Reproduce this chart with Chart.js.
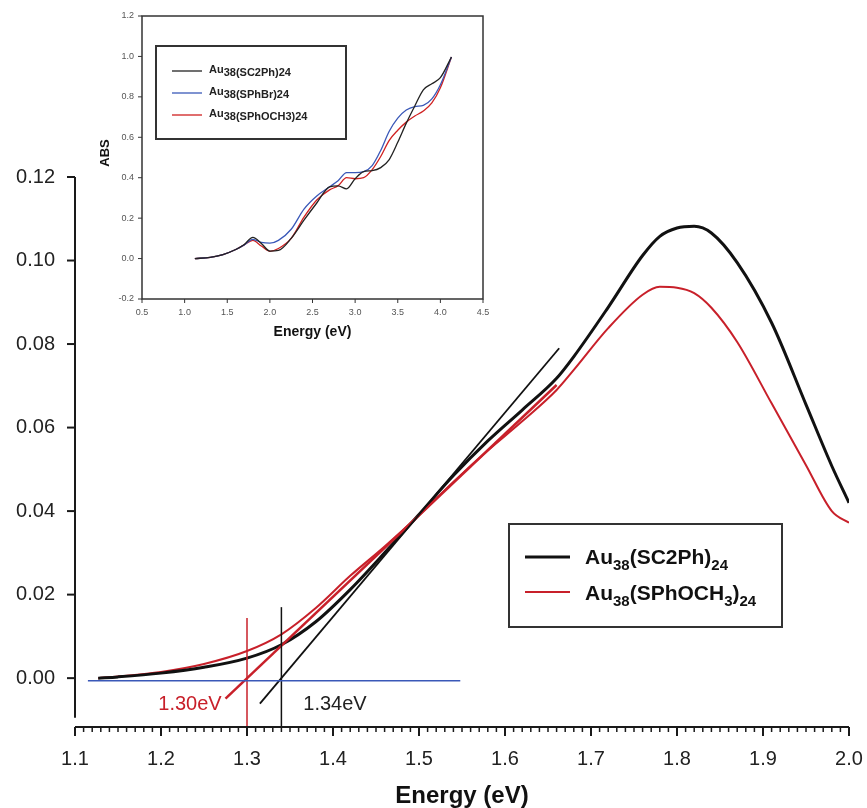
<!DOCTYPE html>
<html>
<head>
<meta charset="utf-8">
<script src="https://cdn.jsdelivr.net/npm/chart.js@4"></script>
<style>
  body { margin: 0; background: #fff; }
  #wrap { position: relative; width: 867px; height: 808px; }
  canvas { position: absolute; }
</style>
</head>
<body>
<div id="wrap">
  <canvas id="mainChart" width="867" height="808" style="left:0;top:0"></canvas>
  <canvas id="insetChart" width="420" height="350" style="left:90px;top:0"></canvas>
</div>
<script>
// main plot: absorbance near the band edge
const mainEnergy = [1.127, 1.15, 1.20, 1.25, 1.30, 1.34, 1.38, 1.42, 1.46, 1.50, 1.54, 1.58, 1.62, 1.66, 1.68, 1.72, 1.76, 1.78, 1.80, 1.82, 1.84, 1.87, 1.91, 1.95, 1.98, 2.00];
const mainSC2Ph = [0.0000, 0.0003, 0.0012, 0.0026, 0.0048, 0.0080, 0.0135, 0.0212, 0.0300, 0.0392, 0.0485, 0.0568, 0.0642, 0.0718, 0.0770, 0.0888, 0.1012, 0.1058, 0.1078, 0.1082, 0.1066, 0.0995, 0.0851, 0.0655, 0.0508, 0.0420];
const mainSPhOCH3 = [0.0000, 0.0004, 0.0015, 0.0034, 0.0065, 0.0105, 0.0168, 0.0245, 0.0315, 0.0390, 0.0470, 0.0545, 0.0615, 0.0690, 0.0738, 0.0838, 0.0918, 0.0937, 0.0935, 0.0922, 0.0887, 0.0805, 0.0658, 0.0510, 0.0400, 0.0372];

// tangent fits, baseline and onset markers
const blackTangentE = [1.315, 1.663];
const blackTangentV = [-0.0061, 0.0790];
const redTangentE = [1.275, 1.66];
const redTangentV = [-0.0049, 0.0702];
const baselineE = [1.115, 1.548];
const baselineV = [-0.0006, -0.0006];
const onsetBlack = 1.34;
const onsetRed = 1.30;

const mainXTicks = [1.1, 1.2, 1.3, 1.4, 1.5, 1.6, 1.7, 1.8, 1.9, 2.0];
const mainYTicks = [0, 0.02, 0.04, 0.06, 0.08, 0.10, 0.12];

// inset: full spectra
const insetEnergy = [1.12, 1.3, 1.45, 1.6, 1.7, 1.8, 1.9, 2.0, 2.1, 2.25, 2.4, 2.55, 2.7, 2.8, 2.9, 3.0, 3.1, 3.2, 3.3, 3.4, 3.5, 3.6, 3.7, 3.8, 3.9, 4.0, 4.13];
const insetSC2Ph = [0, 0.006, 0.02, 0.045, 0.07, 0.105, 0.075, 0.037, 0.04, 0.10, 0.19, 0.275, 0.355, 0.36, 0.345, 0.395, 0.43, 0.435, 0.45, 0.49, 0.575, 0.67, 0.755, 0.835, 0.865, 0.895, 0.997];
const insetSPhBr = [0, 0.006, 0.02, 0.045, 0.068, 0.095, 0.08, 0.076, 0.09, 0.145, 0.245, 0.31, 0.355, 0.385, 0.425, 0.425, 0.43, 0.46, 0.535, 0.63, 0.695, 0.735, 0.752, 0.758, 0.79, 0.86, 0.997];
const insetSPhOCH3 = [0, 0.006, 0.02, 0.045, 0.068, 0.09, 0.062, 0.036, 0.05, 0.10, 0.205, 0.29, 0.34, 0.36, 0.40, 0.395, 0.40, 0.44, 0.505, 0.585, 0.635, 0.675, 0.705, 0.73, 0.77, 0.845, 0.997];
const insetXTicks = [0.5, 1.0, 1.5, 2.0, 2.5, 3.0, 3.5, 4.0, 4.5];
const insetYTicks = [-0.2, 0, 0.2, 0.4, 0.6, 0.8, 1.0, 1.2];

const BLACK = '#111111';
const RED = '#c8202a';
const BLUE = '#3a58b8';
const FONT = '"Liberation Sans", Arial, sans-serif';

function toPoints(xs, ys) {
    return xs.map((x, i) => ({ x: x, y: ys[i] }));
}

// draws text with subscript parts, e.g. Au_38(SC2Ph)_24
function drawRich(ctx, parts, x, y, size, subSize, subDrop) {
    let cx = x;
    parts.forEach(p => {
        ctx.font = 'bold ' + (p.sub ? subSize : size) + 'px ' + FONT;
        ctx.fillText(p.t, cx, p.sub ? y + subDrop : y);
        cx += ctx.measureText(p.t).width;
    });
}

const mainDecor = {
    id: 'mainDecor',
    afterDraw(chart) {
        const ctx = chart.ctx;
        const x = chart.scales.x, y = chart.scales.y;
        ctx.save();
        ctx.strokeStyle = '#1a1a1a';
        ctx.lineWidth = 2;

        // y axis (stops short of the x axis)
        const ax = x.getPixelForValue(1.1);
        ctx.beginPath();
        ctx.moveTo(ax, y.getPixelForValue(0.12));
        ctx.lineTo(ax, y.getPixelForValue(-0.0095));
        ctx.stroke();
        mainYTicks.forEach(v => {
            const py = y.getPixelForValue(v);
            ctx.beginPath();
            ctx.moveTo(ax - 8, py);
            ctx.lineTo(ax, py);
            ctx.stroke();
        });

        // x axis with minor ticks every 0.01
        const ay = y.bottom;
        ctx.beginPath();
        ctx.moveTo(x.getPixelForValue(1.1), ay);
        ctx.lineTo(x.getPixelForValue(2.0), ay);
        ctx.stroke();
        for (let i = 0; i <= 90; i++) {
            const px = x.getPixelForValue(1.1 + i * 0.01);
            const len = i % 10 === 0 ? 9 : 5;
            ctx.lineWidth = i % 10 === 0 ? 2 : 1.5;
            ctx.beginPath();
            ctx.moveTo(px, ay);
            ctx.lineTo(px, ay + len);
            ctx.stroke();
        }

        // axis title
        ctx.fillStyle = '#111';
        ctx.font = 'bold 24px ' + FONT;
        ctx.textAlign = 'center';
        ctx.textBaseline = 'alphabetic';
        ctx.fillText('Energy (eV)', (x.left + x.right) / 2, 803);

        // onset labels
        ctx.font = '20px ' + FONT;
        ctx.textBaseline = 'middle';
        ctx.fillStyle = RED;
        ctx.fillText('1.30eV', x.getPixelForValue(1.2337), y.getPixelForValue(-0.0064));
        ctx.fillStyle = '#222';
        ctx.fillText('1.34eV', x.getPixelForValue(1.4023), y.getPixelForValue(-0.0064));

        // legend
        ctx.lineWidth = 2;
        ctx.strokeStyle = '#333';
        ctx.strokeRect(509, 524, 273, 103);
        ctx.lineWidth = 3;
        ctx.strokeStyle = BLACK;
        ctx.beginPath(); ctx.moveTo(525, 557); ctx.lineTo(570, 557); ctx.stroke();
        ctx.lineWidth = 2;
        ctx.strokeStyle = RED;
        ctx.beginPath(); ctx.moveTo(525, 592); ctx.lineTo(570, 592); ctx.stroke();
        ctx.fillStyle = '#111';
        ctx.textAlign = 'left';
        ctx.textBaseline = 'alphabetic';
        drawRich(ctx, [{ t: 'Au' }, { t: '38', sub: true }, { t: '(SC2Ph)' }, { t: '24', sub: true }], 585, 564, 21, 15, 6);
        drawRich(ctx, [{ t: 'Au' }, { t: '38', sub: true }, { t: '(SPhOCH' }, { t: '3', sub: true }, { t: ')' }, { t: '24', sub: true }], 585, 600, 21, 15, 6);
        ctx.restore();
    }
};

const lineDefaults = { pointRadius: 0, showLine: true, fill: false };

// keep tick label overflow from shrinking the plot area
function noSidePad(s) {
    s.paddingLeft = 0;
    s.paddingRight = 0;
}

new Chart(document.getElementById('mainChart'), {
    type: 'scatter',
    data: {
        datasets: [
            Object.assign({ data: toPoints(baselineE, baselineV), borderColor: BLUE, borderWidth: 1.5 }, lineDefaults),
            Object.assign({ data: toPoints([onsetRed, onsetRed], [-0.0117, 0.0144]), borderColor: RED, borderWidth: 1.5 }, lineDefaults),
            Object.assign({ data: toPoints([onsetBlack, onsetBlack], [-0.0117, 0.0170]), borderColor: BLACK, borderWidth: 1.5 }, lineDefaults),
            Object.assign({ data: toPoints(blackTangentE, blackTangentV), borderColor: BLACK, borderWidth: 1.8 }, lineDefaults),
            Object.assign({ data: toPoints(redTangentE, redTangentV), borderColor: RED, borderWidth: 2.5 }, lineDefaults),
            Object.assign({ data: toPoints(mainEnergy, mainSC2Ph), borderColor: BLACK, borderWidth: 3, cubicInterpolationMode: 'monotone' }, lineDefaults),
            Object.assign({ data: toPoints(mainEnergy, mainSPhOCH3), borderColor: RED, borderWidth: 2, cubicInterpolationMode: 'monotone' }, lineDefaults)
        ]
    },
    options: {
        responsive: false,
        animation: false,
        layout: { padding: { top: 177, right: 18, left: 0, bottom: 0 } },
        plugins: { legend: { display: false }, tooltip: { enabled: false } },
        scales: {
            x: {
                type: 'linear', min: 1.1, max: 2.0,
                afterBuildTicks: s => { s.ticks = mainXTicks.map(v => ({ value: v })); },
                afterFit: s => { s.height = 81; noSidePad(s); },
                grid: { display: false, drawTicks: false },
                border: { display: false },
                ticks: { padding: 20, color: '#222', font: { family: FONT, size: 20 }, maxRotation: 0, callback: v => v.toFixed(1) }
            },
            y: {
                type: 'linear', min: -0.0117, max: 0.12,
                afterBuildTicks: s => { s.ticks = mainYTicks.map(v => ({ value: v })); },
                afterFit: s => { s.width = 75; },
                grid: { display: false, drawTicks: false },
                border: { display: false },
                ticks: { padding: 20, color: '#222', font: { family: FONT, size: 20 }, callback: v => v.toFixed(2) }
            }
        }
    },
    plugins: [mainDecor]
});

const insetDecor = {
    id: 'insetDecor',
    afterDraw(chart) {
        const ctx = chart.ctx;
        const a = chart.chartArea;
        const x = chart.scales.x, y = chart.scales.y;
        ctx.save();
        ctx.strokeStyle = '#333';
        ctx.lineWidth = 1.5;
        ctx.strokeRect(a.left, a.top, a.right - a.left, a.bottom - a.top);
        ctx.lineWidth = 1;
        insetXTicks.forEach(v => {
            const px = x.getPixelForValue(v);
            ctx.beginPath(); ctx.moveTo(px, a.bottom); ctx.lineTo(px, a.bottom + 4); ctx.stroke();
        });
        insetYTicks.forEach(v => {
            const py = y.getPixelForValue(v);
            ctx.beginPath(); ctx.moveTo(a.left - 4, py); ctx.lineTo(a.left, py); ctx.stroke();
        });

        // titles
        ctx.fillStyle = '#111';
        ctx.font = 'bold 14px ' + FONT;
        ctx.textAlign = 'center';
        ctx.textBaseline = 'middle';
        ctx.fillText('Energy (eV)', (a.left + a.right) / 2, 332);
        ctx.save();
        ctx.translate(15, 153);
        ctx.rotate(-Math.PI / 2);
        ctx.font = 'bold 13px ' + FONT;
        ctx.fillText('ABS', 0, 0);
        ctx.restore();

        // legend
        ctx.strokeStyle = '#333';
        ctx.lineWidth = 2;
        ctx.strokeRect(66, 46, 190, 93);
        const rows = [[71, '#222', '(SC2Ph)24'], [93, BLUE, '(SPhBr)24'], [115, '#d02020', '(SPhOCH3)24']];
        ctx.textAlign = 'left';
        ctx.textBaseline = 'alphabetic';
        ctx.lineWidth = 1.3;
        rows.forEach(r => {
            ctx.strokeStyle = r[1];
            ctx.beginPath(); ctx.moveTo(82, r[0]); ctx.lineTo(112, r[0]); ctx.stroke();
            ctx.fillStyle = '#222';
            drawRich(ctx, [{ t: 'Au' }, { t: '38' + r[2], sub: true }], 119, r[0] + 2, 11, 11, 3);
        });
        ctx.restore();
    }
};

new Chart(document.getElementById('insetChart'), {
    type: 'scatter',
    data: {
        datasets: [
            Object.assign({ data: toPoints(insetEnergy, insetSC2Ph), borderColor: '#222', borderWidth: 1.3, cubicInterpolationMode: 'monotone' }, lineDefaults),
            Object.assign({ data: toPoints(insetEnergy, insetSPhBr), borderColor: BLUE, borderWidth: 1.3, cubicInterpolationMode: 'monotone' }, lineDefaults),
            Object.assign({ data: toPoints(insetEnergy, insetSPhOCH3), borderColor: '#d02020', borderWidth: 1.3, cubicInterpolationMode: 'monotone' }, lineDefaults)
        ]
    },
    options: {
        responsive: false,
        animation: false,
        layout: { padding: { top: 16, right: 27, left: 0, bottom: 0 } },
        plugins: { legend: { display: false }, tooltip: { enabled: false } },
        scales: {
            x: {
                type: 'linear', min: 0.5, max: 4.5,
                afterBuildTicks: s => { s.ticks = insetXTicks.map(v => ({ value: v })); },
                afterFit: s => { s.height = 51; noSidePad(s); },
                grid: { display: false, drawTicks: false },
                border: { display: false },
                ticks: { padding: 8, color: '#555', font: { family: FONT, size: 9 }, maxRotation: 0, callback: v => v.toFixed(1) }
            },
            y: {
                type: 'linear', min: -0.2, max: 1.2,
                afterBuildTicks: s => { s.ticks = insetYTicks.map(v => ({ value: v })); },
                afterFit: s => { s.width = 52; },
                grid: { display: false, drawTicks: false },
                border: { display: false },
                ticks: { padding: 8, color: '#555', font: { family: FONT, size: 9 }, callback: v => v.toFixed(1) }
            }
        }
    },
    plugins: [insetDecor]
});
</script>
</body>
</html>
